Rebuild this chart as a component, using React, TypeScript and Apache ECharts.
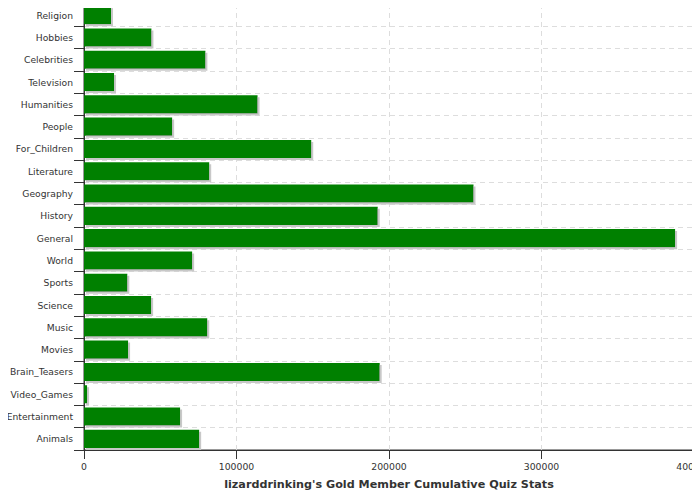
import React, { useEffect, useRef } from "react";
import * as echarts from "echarts";

const categories = [
  "Religion", "Hobbies", "Celebrities", "Television", "Humanities", "People",
  "For_Children", "Literature", "Geography", "History", "General", "World",
  "Sports", "Science", "Music", "Movies", "Brain_Teasers", "Video_Games",
  "Entertainment", "Animals",
];
const values = [
  17700, 44200, 79600, 19700, 113800, 57800, 149000, 82100, 255400, 192600,
  387600, 70900, 28400, 44000, 80800, 28900, 193900, 2000, 63000, 75500,
];
const chartTitle = "lizarddrinking's Gold Member Cumulative Quiz Stats";

export default function App() {
  const ref = useRef<HTMLDivElement>(null);
  useEffect(() => {
    if (!ref.current) return;
    const chart = echarts.init(ref.current, undefined, { renderer: "svg" });
    const font = "DejaVu Sans";
    chart.setOption({
      animation: false,
      grid: {
        left: 84, top: 4, width: 610, height: 446,
        outerBoundsMode: "none", containLabel: false,
        show: true, borderColor: "#333", borderWidth: 1, backgroundColor: "transparent",
      },
      xAxis: {
        type: "value", min: 0, max: 400000, interval: 100000,
        name: chartTitle, nameLocation: "middle", nameGap: 29,
        nameTextStyle: { fontFamily: font, fontSize: 11.2, fontWeight: "bold", color: "#333" },
        axisLine: { show: true, lineStyle: { color: "#333" } },
        axisTick: { show: true, length: 9, lineStyle: { color: "#333" } },
        axisLabel: {
          fontFamily: font, fontSize: 9.3, color: "#333", margin: 12,
          formatter: (v: number) => String(v),
        },
        splitLine: { show: true, lineStyle: { color: "#ddd", type: [5, 4] } },
      },
      yAxis: {
        type: "category", data: categories, inverse: true,
        axisLine: { show: true, lineStyle: { color: "#333" } },
        axisTick: { show: true, length: 10, lineStyle: { color: "#333" } },
        axisLabel: { fontFamily: font, fontSize: 9.2, color: "#333", margin: 11 },
        splitLine: { show: true, lineStyle: { color: "#ddd", type: [5, 4] } },
      },
      series: [
        {
          type: "bar", data: values, barCategoryGap: "19%",
          itemStyle: {
            color: "#008000",
            shadowColor: "#c8c8c8", shadowBlur: 0, shadowOffsetX: 2, shadowOffsetY: 2,
          },
        },
      ],
    });
    return () => chart.dispose();
  }, []);
  return <div ref={ref} style={{ width: 700, height: 500, margin: -8 }} />;
}
